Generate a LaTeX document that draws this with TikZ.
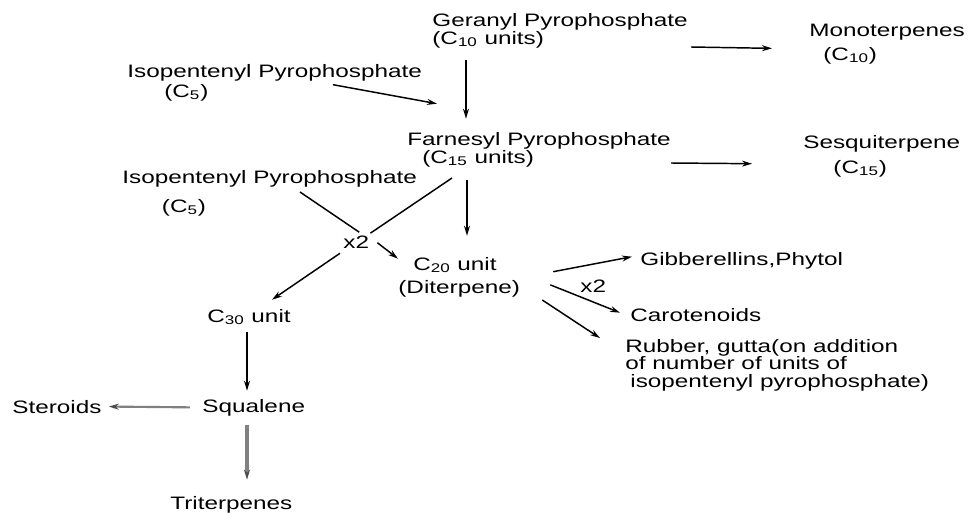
\documentclass[tikz,border=0pt]{standalone}
\usepackage{fontspec}
\setmainfont{Liberation Sans}
\usetikzlibrary{arrows.meta, calc}

\begin{document}
\begin{tikzpicture}[x=0.75pt, y=-0.75pt,
  lbl/.style={inner sep=0pt, anchor=base west, align=left, xscale=1.35,
    font=\fontsize{13.5pt}{13pt}\selectfont},
  arr/.style={line width=1.1pt, -{Stealth[length=7.5pt, width=4.5pt]}},
  grayarr/.style={gray, line width=1.6pt, -{Stealth[length=7.5pt, width=4.5pt, color=black!70]}}]
\useasboundingbox (0,0) rectangle (968,512);

% Precursors (base = last line)
\node[lbl] (ger) at (432,44) {Geranyl Pyrophosphate\\(C\textsubscript{10} units)};
\node[lbl] (isoA) at (127,97) {Isopentenyl Pyrophosphate\\[2pt]\hspace*{20.5pt}(C\textsubscript{5})};
\node[lbl] (far) at (407,163) {Farnesyl Pyrophosphate\\[0.5pt]\hspace*{8.3pt}(C\textsubscript{15} units)};
\node[lbl] (isoB) at (122,212) {Isopentenyl Pyrophosphate\\[8.75pt]\hspace*{22pt}(C\textsubscript{5})};

% Products
\node[lbl] (mono) at (809,60) {Monoterpenes\\[5pt]\hspace*{7.8pt}(C\textsubscript{10})};
\node[lbl] (sesq) at (803,173) {Sesquiterpene\\[5.75pt]\hspace*{16.7pt}(C\textsubscript{15})};
\node[lbl] (xA) at (343,248) {x2};
\node[lbl] (c20) at (398,293) {\hspace*{8.3pt}C\textsubscript{20} unit\\[4.25pt](Diterpene)};
\node[lbl] (c30) at (207,322) {C\textsubscript{30} unit};
\node[lbl] (gib) at (640,265) {Gibberellins,Phytol};
\node[lbl] (xB) at (580,292) {x2};
\node[lbl] (car) at (630,321) {Carotenoids};
\node[lbl] (rub) at (625,387) {Rubber, gutta(on addition\\of number of units of\\\hspace*{2.8pt}isopentenyl pyrophosphate)};
\node[lbl] (squa) at (202,412) {Squalene};
\node[lbl] (ster) at (12,413) {Steroids};
\node[lbl] (trit) at (170,509) {Triterpenes};

% Upper arrows
\draw[arr] ($(ger.south west)+(34,12)$) -- ($(far.north west)+(59,-13)$);
\draw[arr] ($(isoA.north west)+(206,21)$) -- ($(far.north west)+(30,-28)$);
\draw[arr] ($(ger.south east)+(3,-1)$) -- ($(mono.north west)+(-37,25)$);
\draw[arr] ($(far.south east)+(0,-4)$) -- ($(sesq.north west)+(-51,29)$);
\draw[arr] ($(far.south west)+(60,13)$) -- ($(c20.north west)+(69,-21)$);

% Crossing lines broken at x2
\coordinate (xAin) at ($(xA.north)+(3,-3)$);
\coordinate (xAout) at ($(xA.east)+(8,1)$);
\coordinate (xAup) at ($(xA.north east)+(1,-2)$);
\coordinate (xAlow) at ($(xA.south west)+(-3,5)$);
\draw[line width=1.1pt] ($(isoB.south west)+(178,-24)$) -- (xAin);
\draw[arr] (xAout) -- ($(c20.north west)+(0,2)$);
\draw[line width=1.1pt] ($(far.south west)+(45,11)$) -- (xAup);
\draw[arr] (xAlow) -- ($(c30.north west)+(65,-9)$);

% Diterpene branches
\draw[arr] ($(c20.north east)+(33,15)$) -- ($(gib.north west)+(-8,5)$);
\draw[arr] ($(c20.east)+(30,8)$) -- ($(car.north west)+(-10,5)$);
\draw[arr] ($(c20.south east)+(22,3)$) -- ($(rub.north west)+(-25,-1)$);

% Triterpene side
\draw[arr] ($(c30.south west)+(40,7)$) -- ($(squa.north west)+(45,-8)$);
\draw[grayarr] ($(squa.west)+(-12,0)$) -- ($(ster.east)+(7,0)$);
\draw[grayarr, line width=2.4pt] ($(squa.south west)+(45,9)$) -- ($(trit.north west)+(77,-16)$);
\end{tikzpicture}
\end{document}
